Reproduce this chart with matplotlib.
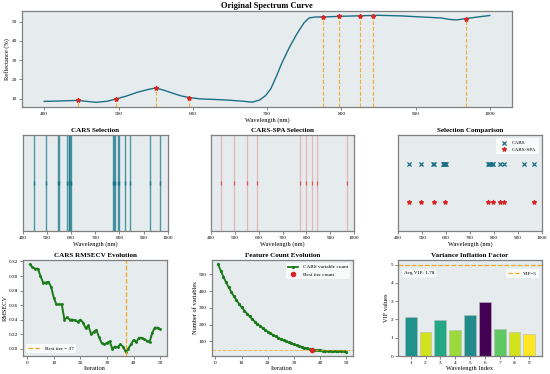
import matplotlib
matplotlib.use('Agg')
import matplotlib.pyplot as plt
import numpy as np

plt.rcParams['font.family'] = ['Liberation Serif', 'DejaVu Serif']

# spectrum curve (wavelength nm, reflectance %)
spec_wl = [400, 420, 445, 460, 470, 485, 497, 510, 525, 540, 550, 562, 575, 585, 595,
           610, 630, 650, 670, 680, 690, 698, 705, 712, 720, 730, 740, 750, 757, 765,
           780, 800, 830, 850, 880, 910, 935, 945, 955, 968, 985, 1000]
spec_r = [8.5, 8.7, 9.0, 8.4, 8.0, 8.6, 9.8, 11.2, 13.2, 14.7, 15.5, 14.2, 12.5, 11.3, 10.5,
          9.8, 9.5, 9.1, 8.5, 8.1, 9.2, 11.5, 15.0, 21.0, 28.5, 36.5, 43.5, 49.5, 52.0, 52.4,
          52.5, 52.8, 53.1, 53.3, 53.0, 52.4, 51.9, 51.2, 50.9, 51.6, 52.5, 53.2]

# selected wavelengths
cars_wl = [445, 497, 545, 550, 585, 590, 593, 597, 600, 775, 778, 782, 793, 797,
           825, 843, 925, 968]
spa_wl = [445, 497, 550, 595, 775, 797, 825, 843, 968]
spa_r = [9.0, 9.8, 15.5, 10.5, 52.5, 52.8, 53.0, 53.2, 51.6]

# CARS iterations
iters = list(range(1, 51))
rmsecv = [0.316, 0.312, 0.310, 0.310, 0.300, 0.291, 0.291, 0.292, 0.285, 0.270,
          0.261, 0.261, 0.261, 0.240, 0.243, 0.240, 0.240, 0.239, 0.237, 0.240,
          0.236, 0.228, 0.232, 0.220, 0.223, 0.226, 0.216, 0.208, 0.206, 0.208,
          0.210, 0.200, 0.203, 0.202, 0.206, 0.203, 0.196, 0.200, 0.206, 0.212,
          0.209, 0.215, 0.215, 0.213, 0.211, 0.209, 0.222, 0.229, 0.229, 0.227]
var_count = [560, 522, 487, 454, 424, 396, 370, 346, 324, 303,
             284, 266, 249, 233, 218, 204, 191, 179, 168, 157,
             147, 138, 129, 121, 113, 106, 99, 93, 87, 81,
             76, 71, 66, 61, 57, 52, 48, 47, 46, 45,
             44, 43, 42, 41, 41, 40, 40, 39, 39, 38]
best_iter = 37

# VIF
vif_idx = [1, 2, 3, 4, 5, 6, 7, 8, 9]
vif_vals = [2.12, 1.33, 1.95, 1.40, 2.22, 2.97, 1.50, 1.30, 1.22]
vif_cmap_pos = [0.5, 0.93, 0.6, 0.85, 0.48, 0.0, 0.75, 0.93, 1.0]

BG = '#e6ecee'
TEAL = '#1b6f85'
LINE_TEAL = '#1a7a8c'
RED = '#d62728'
ORANGE = '#f5a623'
GREEN = '#1a7a1a'
TFS, LFS, KFS = 6, 4.6, 3.8


def style(ax):
    ax.set_facecolor(BG)
    for s in ax.spines.values():
        s.set_color('#7f7f7f')
        s.set_linewidth(0.9)
    ax.tick_params(labelsize=KFS, length=2, width=0.5, color='#555555', pad=1.5)


fig = plt.figure(figsize=(5.5, 3.74), dpi=100)

# top: spectrum
ax0 = fig.add_axes([0.04, 0.7147, 0.891, 0.256])
style(ax0)
ax0.plot(spec_wl, spec_r, color=TEAL, lw=1.0)
ax0.margins(x=0.05, y=0.05)
yl = ax0.get_ylim()
ax0.vlines(spa_wl, yl[0], spa_r, colors=ORANGE, linestyles='--', lw=0.8, alpha=0.9)
ax0.plot(spa_wl, spa_r, '*', color=RED, ms=3.2)
ax0.set_ylim(yl)
ax0.set_title('Original Spectrum Curve', fontsize=TFS, fontweight='bold', pad=2)
ax0.set_xlabel('Wavelength (nm)', fontsize=LFS, labelpad=1)
ax0.set_ylabel('Reflectance (%)', fontsize=LFS, labelpad=1)

# row 2
ax1 = fig.add_axes([0.0413, 0.3824, 0.2636, 0.2567])
style(ax1)
for w in cars_wl:
    ax1.axvline(w, color=LINE_TEAL, lw=1.0, alpha=0.75)
ax1.scatter(cars_wl, [0.5] * len(cars_wl), marker='|', s=10, color=TEAL, lw=1.0)
ax1.set_xlim(400, 1000)
ax1.set_ylim(0, 1)
ax1.set_yticks([])
ax1.set_title('CARS Selection', fontsize=TFS * 0.85, fontweight='bold', pad=2)
ax1.set_xlabel('Wavelength (nm)', fontsize=LFS, labelpad=1)

ax2 = fig.add_axes([0.3831, 0.3824, 0.2611, 0.2567])
style(ax2)
for w in spa_wl:
    ax2.axvline(w, color='#e06666', lw=0.9, alpha=0.4)
ax2.scatter(spa_wl, [0.5] * len(spa_wl), marker='|', s=10, color=RED, lw=0.9, alpha=0.8)
ax2.set_xlim(400, 1000)
ax2.set_ylim(0, 1)
ax2.set_yticks([])
ax2.set_title('CARS-SPA Selection', fontsize=TFS * 0.85, fontweight='bold', pad=2)
ax2.set_xlabel('Wavelength (nm)', fontsize=LFS, labelpad=1)

ax3 = fig.add_axes([0.7242, 0.3824, 0.2607, 0.2567])
style(ax3)
ax3.scatter(cars_wl, [1] * len(cars_wl), marker='x', s=9, color=TEAL, lw=0.9, label='CARS')
ax3.scatter(spa_wl, [0] * len(spa_wl), marker='*', s=8, color=RED, label='CARS-SPA')
ax3.set_xlim(400, 1000)
ax3.set_ylim(-0.75, 1.75)
ax3.set_yticks([])
ax3.set_title('Selection Comparison', fontsize=TFS * 0.85, fontweight='bold', pad=2)
ax3.set_xlabel('Wavelength (nm)', fontsize=LFS, labelpad=1)
ax3.legend(loc='upper right', fontsize=3.8, frameon=True, framealpha=0.8, edgecolor='none',
           handletextpad=0.5, borderpad=0.5, labelspacing=0.4)

# row 3
ax4 = fig.add_axes([0.0424, 0.0481, 0.2607, 0.2567])
style(ax4)
ax4.plot(iters, rmsecv, color=GREEN, lw=1.4, marker='o', ms=1.0)
ax4.axvline(best_iter, color=ORANGE, ls='--', lw=0.9, label=f'Best iter = {best_iter}')
ax4.set_title('CARS RMSECV Evolution', fontsize=TFS * 0.85, fontweight='bold', pad=2)
ax4.set_xlabel('Iteration', fontsize=LFS, labelpad=1)
ax4.set_ylabel('RMSECV', fontsize=LFS, labelpad=1)
ax4.legend(loc='lower left', fontsize=3.8, frameon=True, framealpha=0.8, edgecolor='none',
           handlelength=2.5)

ax5 = fig.add_axes([0.3849, 0.0481, 0.2564, 0.2567])
style(ax5)
ax5.plot(iters, var_count, color=GREEN, lw=1.3, marker='o', ms=1.3, label='CARS variable count')
ax5.axhline(var_count[best_iter - 1], color=ORANGE, ls='--', lw=0.7, alpha=0.7)
ax5.plot([best_iter], [var_count[best_iter - 1]], 'o', color=RED, ms=3, label='Best iter count')
ax5.set_title('Feature Count Evolution', fontsize=TFS * 0.85, fontweight='bold', pad=2)
ax5.set_xlabel('Iteration', fontsize=LFS, labelpad=1)
ax5.set_ylabel('Number of variables', fontsize=LFS, labelpad=1)
ax5.legend(loc='upper right', fontsize=3.8, frameon=True, framealpha=0.8, edgecolor='none')

ax6 = fig.add_axes([0.7242, 0.0481, 0.2607, 0.2567])
style(ax6)
cols = [plt.cm.viridis(p) for p in vif_cmap_pos]
ax6.bar(vif_idx, vif_vals, color=cols, edgecolor='#bbbbbb', lw=0.4, width=0.8)
ax6.axhline(5, color=ORANGE, ls='--', lw=0.9, label='VIF=5')
ax6.set_xticks(vif_idx)
ax6.set_title('Variance Inflation Factor', fontsize=TFS * 0.85, fontweight='bold', pad=2)
ax6.set_xlabel('Wavelength Index', fontsize=LFS, labelpad=1)
ax6.set_ylabel('VIF values', fontsize=LFS, labelpad=1)
ax6.legend(loc='upper right', fontsize=3.8, frameon=True, framealpha=0.8, edgecolor='none',
           bbox_to_anchor=(1.0, 0.93))
ax6.text(0.04, 0.86, f'Avg VIF: {np.mean(vif_vals):.2f}', transform=ax6.transAxes,
         fontsize=3.8, va='center',
         bbox=dict(boxstyle='round,pad=0.4', facecolor='white', edgecolor='none', alpha=0.8))

fig.savefig('out.png', dpi=100)
